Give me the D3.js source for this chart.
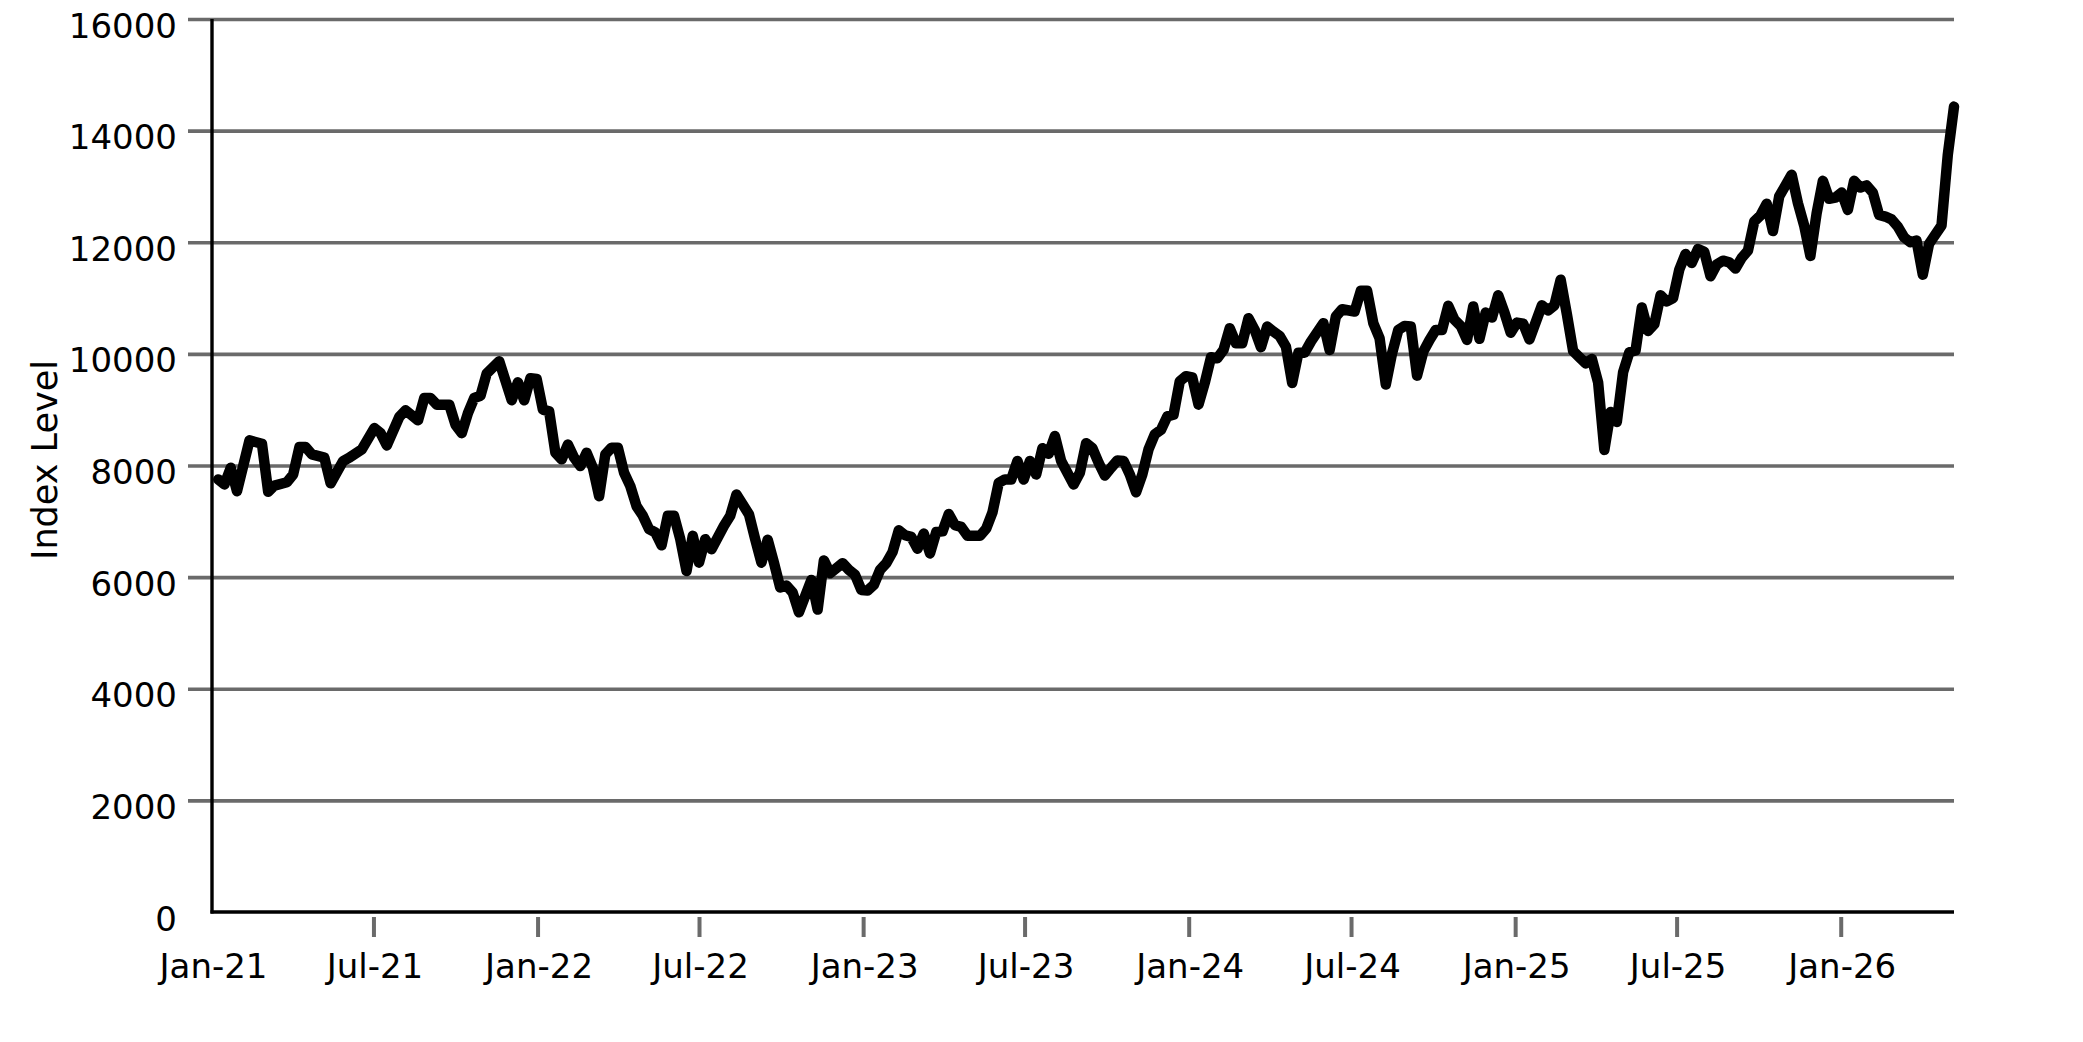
<!DOCTYPE html>
<html>
<head>
<meta charset="utf-8">
<script src="https://cdn.jsdelivr.net/npm/d3@7"></script>
<style>
  html, body { margin: 0; padding: 0; background: #ffffff; }
  svg { display: block; }
  text { font-family: "DejaVu Sans", sans-serif; }
</style>
</head>
<body>
<svg id="chart" width="2083" height="1042"></svg>
<script>
// ---- data ----
const startDate = "2021-01-01";
const weeks = [
  1,2,3,4,6,8,9,10,12,13,14,15,16,18,19,21,22,24,26,27,28,30,31,33,34,35,36,38,39,40,
  41,42,43,44,46,48,49,50,51,52,53,54,55,56,57,58,59,60,61,62,63,64,65,66,67,68,69,70,
  71,72,73,74,75,76,77,78,79,80,82,83,84,86,87,88,89,90,91,92,93,94,96,97,98,99,101,102,
  103,104,105,106,107,108,109,110,111,112,113,114,115,116,117,118,119,120,121,123,124,125,
  126,127,128,129,130,131,132,133,134,135,136,138,139,140,141,142,143,144,145,146,147,148,
  149,150,151,152,153,154,155,156,157,158,159,160,161,162,163,164,165,166,167,168,169,170,
  171,172,173,174,175,176,178,179,180,181,183,184,185,186,187,188,189,190,191,192,193,194,
  195,196,197,198,199,200,201,202,203,204,205,206,207,208,209,210,211,213,214,215,216,217,
  218,219,220,221,222,223,224,225,226,227,228,229,230,231,232,233,234,235,236,237,238,239,
  240,241,242,243,244,245,246,247,248,249,250,251,253,254,255,256,257,258,259,260,261,262,
  263,264,265,266,267,268,269,270,271,272,273,274,275,277,278,279
];
const values = [
  7750,7660,7960,7540,8450,8390,7530,7640,7700,7840,8330,8330,8200,8140,7680,8080,8140,8290,8670,8580,
  8360,8870,8990,8810,9210,9210,9090,9090,8730,8580,8940,9210,9250,9650,9870,9170,9490,9170,9565,9550,
  9000,8970,8230,8110,8375,8140,7990,8230,7960,7450,8200,8320,8320,7870,7630,7270,7100,6860,6800,6570,
  7100,7100,6680,6110,6740,6260,6680,6500,6920,7100,7480,7125,6680,6260,6670,6260,5815,5850,5725,5370,
  5950,5420,6300,6070,6250,6130,6040,5770,5760,5860,6130,6250,6450,6840,6750,6720,6510,6780,6425,6810,
  6820,7130,6930,6900,6740,6740,6870,7160,7690,7750,7750,8080,7750,8080,7840,8310,8210,8530,8080,7660,
  7870,8400,8310,8050,7820,7960,8090,8080,7840,7520,7840,8290,8560,8640,8880,8910,9510,9600,9580,9090,
  9480,9940,9920,10070,10460,10190,10190,10640,10430,10120,10490,10400,10320,10130,9480,10020,10020,10220,10550,10070,
  10670,10800,10760,11130,11130,10550,10280,9450,10010,10430,10500,10490,9610,10040,10250,10430,10430,10860,10610,10500,
  10250,10850,10270,10740,10650,11050,10740,10380,10560,10540,10260,10870,10780,10870,11330,10710,10050,9940,9830,9910,
  9490,8280,8960,8780,9670,10030,10060,10830,10410,10530,11050,10940,11000,11510,11790,11630,11880,11830,11390,11600,
  11670,11640,11530,11720,11850,12370,12480,12690,12200,12820,13210,12700,12300,11755,12520,13100,12780,12800,12890,12580,
  13100,12980,13020,12890,12490,12460,12410,12280,12090,12000,12030,11420,11970,12300,13560,14430
];
const yTicks = [0, 2000, 4000, 6000, 8000, 10000, 12000, 14000, 16000];
const xTickDates = ["2021-01-01","2021-07-01","2022-01-01","2022-07-01","2023-01-01","2023-07-01",
                    "2024-01-01","2024-07-01","2025-01-01","2025-07-01","2026-01-01"];
const xTickLabels = ["Jan-21","Jul-21","Jan-22","Jul-22","Jan-23","Jul-23",
                     "Jan-24","Jul-24","Jan-25","Jul-25","Jan-26"];
const yTitle = "Index Level";

// ---- build ----
const parse = d3.utcParse("%Y-%m-%d");
const start = parse(startDate);
const data = weeks.map((w, i) => ({ date: d3.utcDay.offset(start, 7 * w), value: values[i] }));
const tickDates = xTickDates.map(parse);

const L = 212, R = 1954, T = 19, B = 912;
const x = d3.scaleUtc().domain([start, data[data.length - 1].date]).range([L, R]);
const y = d3.scaleLinear().domain([0, 16000]).range([B, T]);

const svg = d3.select("#chart");
svg.append("rect").attr("width", 2083).attr("height", 1042).attr("fill", "#ffffff");

const gridColor = "#6a6a6a";
const fontSize = 34;

// Y axis with grid
const yAxis = svg.append("g")
  .attr("transform", `translate(${L},0)`)
  .call(d3.axisLeft(y).tickValues(yTicks).tickFormat(d3.format("d"))
        .tickSizeInner(-(R - L)).tickSizeOuter(0).tickPadding(35));
yAxis.select(".domain").remove();
yAxis.selectAll(".tick line")
  .attr("x1", -24)
  .attr("stroke", gridColor)
  .attr("stroke-width", 3.6)
  .filter(d => d === 0).remove();
yAxis.selectAll(".tick text")
  .attr("dy", "0.53em")
  .attr("fill", "#000")
  .style("font-size", fontSize + "px")
  .style("font-family", "'DejaVu Sans', sans-serif");

// X axis
const xAxis = svg.append("g")
  .attr("transform", `translate(0,${B})`)
  .call(d3.axisBottom(x).tickValues(tickDates).tickFormat((d, i) => xTickLabels[i])
        .tickSizeOuter(0).tickSizeInner(25).tickPadding(40));
xAxis.select(".domain").remove();
xAxis.selectAll(".tick line")
  .attr("y1", 5).attr("y2", 25)
  .attr("stroke", gridColor)
  .attr("stroke-width", 4)
  .filter((d, i) => i === 0).remove();
xAxis.selectAll(".tick text")
  .attr("y", 66).attr("dy", 0).attr("x", 1)
  .attr("fill", "#000")
  .style("font-size", fontSize + "px")
  .style("font-family", "'DejaVu Sans', sans-serif");

// Axis lines (left and bottom spines)
svg.append("line").attr("x1", L).attr("x2", L).attr("y1", T).attr("y2", B + 1.5)
  .attr("stroke", "#000").attr("stroke-width", 3.4);
svg.append("line").attr("x1", L - 1.5).attr("x2", R).attr("y1", B).attr("y2", B)
  .attr("stroke", "#000").attr("stroke-width", 3.4);

// Data line
const line = d3.line().x(d => x(d.date)).y(d => y(d.value));
svg.append("path").datum(data)
  .attr("d", line)
  .attr("fill", "none")
  .attr("stroke", "#000")
  .attr("stroke-width", 10.5)
  .attr("stroke-linejoin", "round")
  .attr("stroke-linecap", "round");

// Y title
svg.append("text")
  .attr("transform", `translate(57,460) rotate(-90)`)
  .attr("text-anchor", "middle")
  .attr("fill", "#000")
  .style("font-size", "35px")
  .text(yTitle);
</script>
</body>
</html>
